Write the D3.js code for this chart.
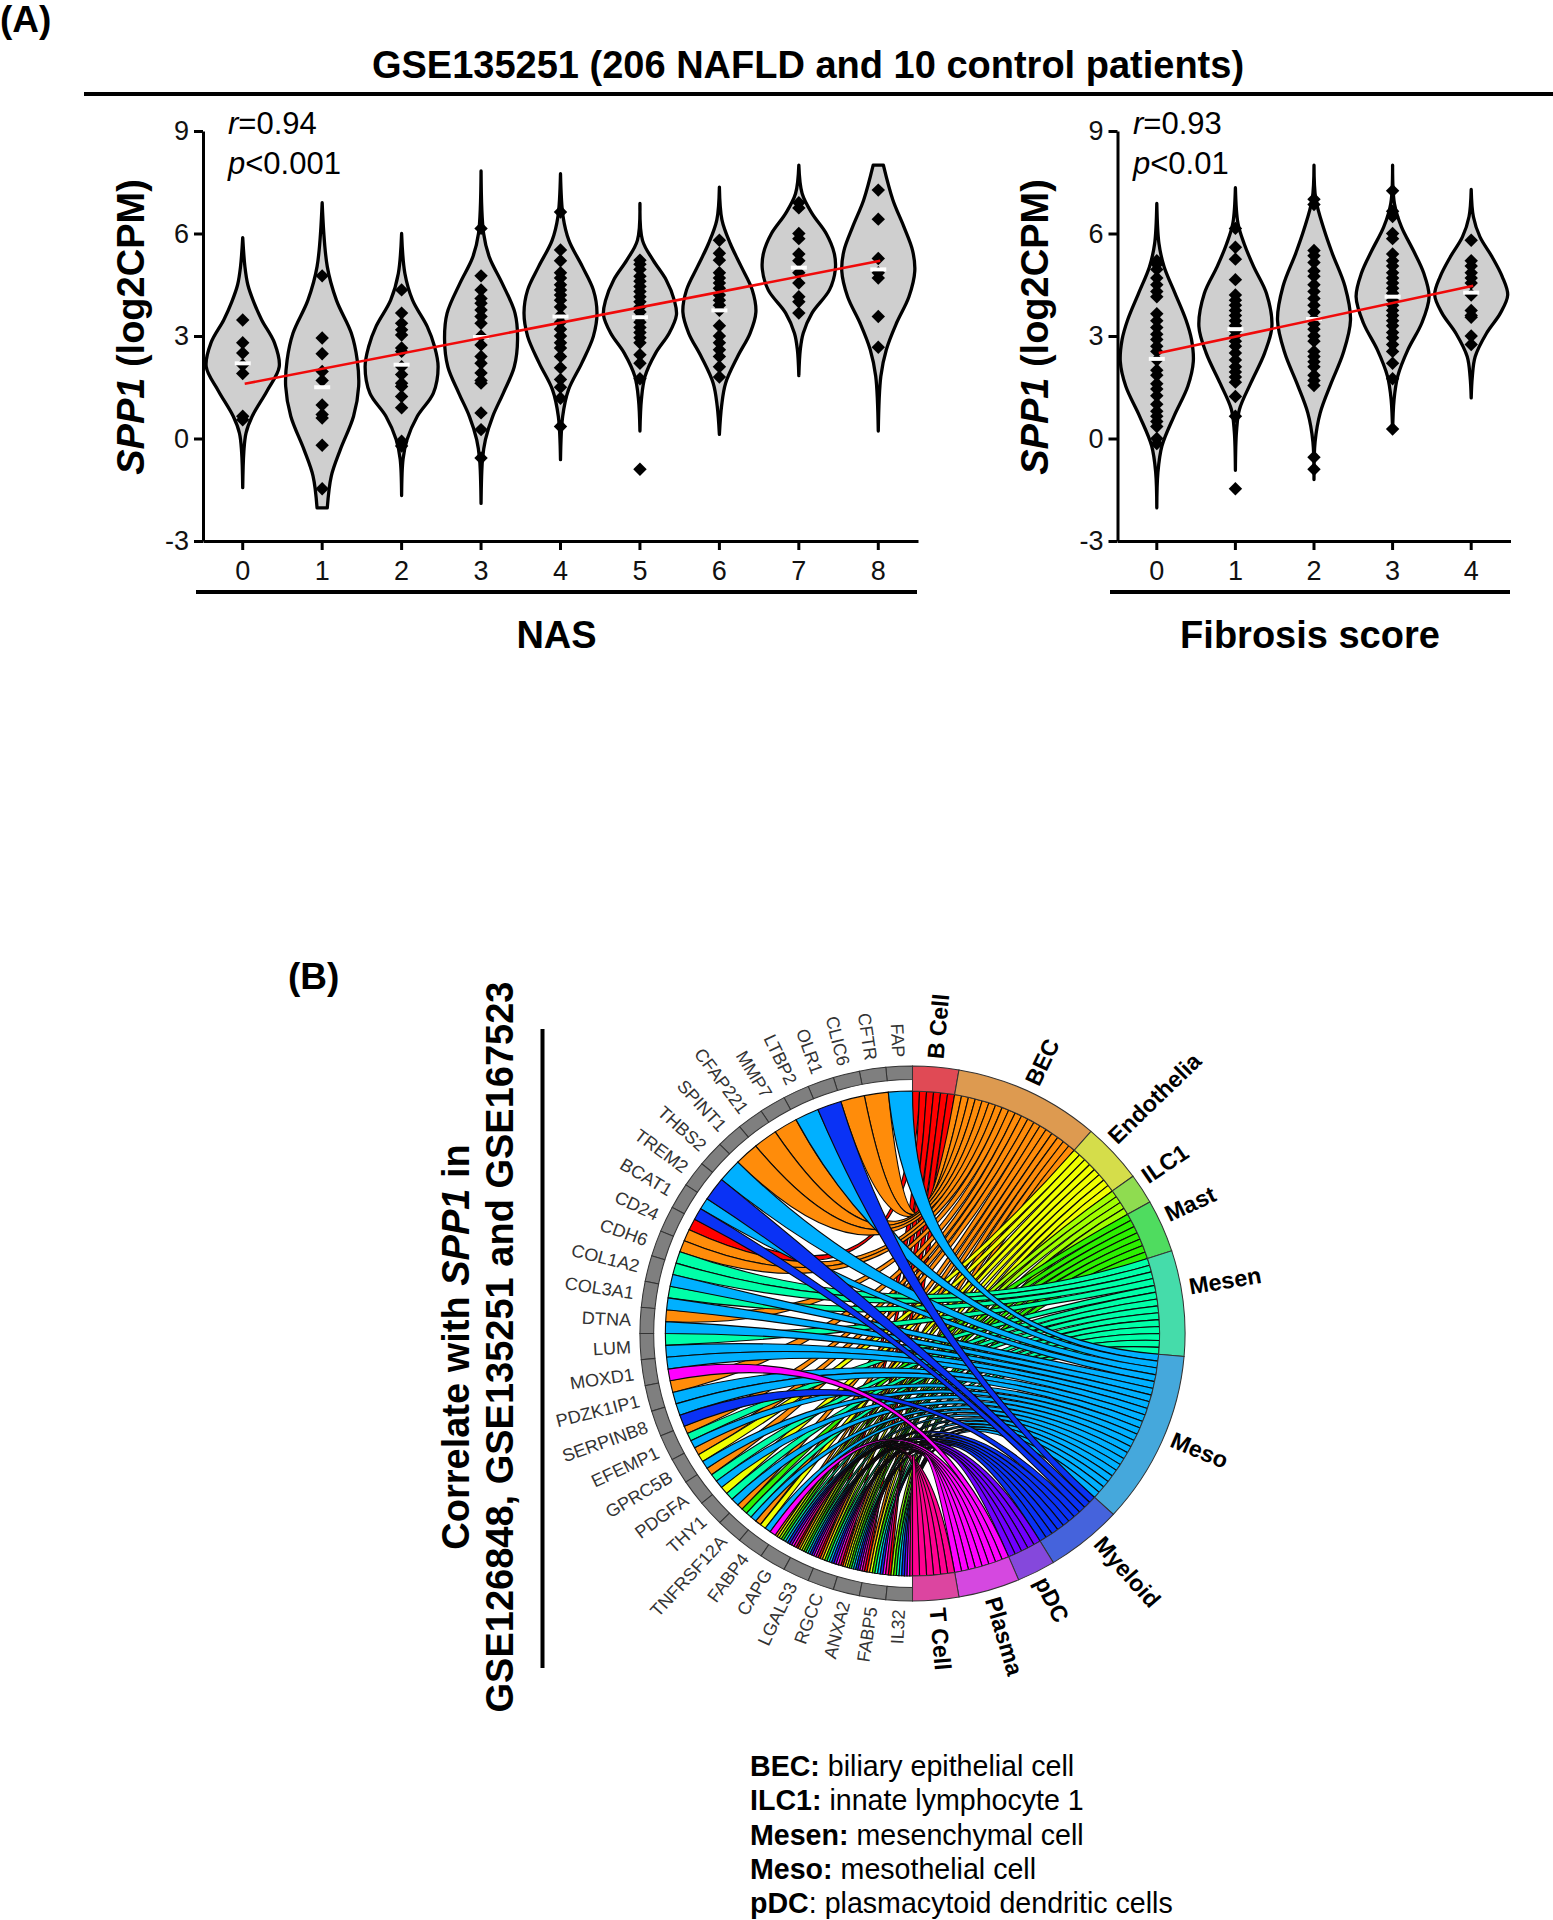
<!DOCTYPE html>
<html lang="en">
<head>
<meta charset="utf-8">
<title>SPP1 violin and chord</title>
<script src="https://cdn.jsdelivr.net/npm/d3@7"></script>
<style>
  body { margin: 0; background: #fff; }
  text { font-family: "Liberation Sans", Arial, sans-serif; fill: #000; }
  .axis path, .axis line { stroke: #000; stroke-width: 3px; }
  .axis text { font-size: 27px; fill: #111; }
  .violin { fill: #cfcfcf; stroke: #000; stroke-width: 3.3px; stroke-linejoin: round; }
  .link { stroke: #0a0a0a; stroke-width: 1.1px; }
</style>
</head>
<body>
<div id="chart"></div>
<script>
// panel A: NAS
var nasLabels = ["0","1","2","3","4","5","6","7","8"];
var nasMedians = [2.2,1.5,2.16,2.97,3.57,3.55,3.75,5.0,4.95];
var nasTrend = [1.6,5.2];
var nasPoints = [
  [3.47,2.8,2.5,2.15,1.9,0.65,0.55],
  [4.76,2.94,2.48,1.96,1.7,0.98,0.7,0.6,-0.2,-1.47],
  [4.35,3.67,3.37,3.18,3.03,2.65,2.55,2.1,1.87,1.62,1.52,1.23,0.9,-0.08,-0.22],
  [6.15,4.76,4.35,4.1,3.96,3.76,3.57,3.37,3,2.74,2.4,2.2,1.92,1.7,1.62,0.75,0.26,-0.57],
  [6.63,5.52,5.2,4.85,4.7,4.5,4.35,4.2,4.05,3.85,3.6,3.4,3.2,3,2.8,2.65,2.4,2.07,1.73,1.5,1.18,0.35],
  [5.22,5.1,4.95,4.75,4.6,4.45,4.3,4.15,4,3.85,3.7,3.55,3.4,3.25,3.1,2.95,2.8,2.45,2.2,1.75,-0.9],
  [5.8,5.42,5.22,4.85,4.7,4.55,4.4,4.2,4.05,3.9,3.75,3.3,3,2.8,2.6,2.4,2.1,1.8],
  [6.9,6.75,6,5.85,5.4,5.2,4.85,4.55,4.15,4,3.67],
  [7.27,6.42,5.27,4.85,4.7,3.57,2.67]
];
// violin outlines, each knot is [log2CPM, share of the full width]
var nasViolins = [
  [[5.88,0],[5.03,.06],[4.5,.14],[4,.3],[3.47,.52],[2.8,.87],[2.1,1],[1.4,.67],[.65,.26],[.16,.09],[-.4,.03],[-1.44,0]],
  [[6.9,0],[5.03,.14],[4.05,.39],[3.08,.8],[2.3,.96],[1.53,1],[.65,.86],[-.32,.5],[-1.1,.25],[-2.03,.14]],
  [[6,0],[4.83,.09],[4.05,.3],[3.28,.7],[2.7,.9],[2.1,1],[1.33,.87],[.65,.43],[-.03,.15],[-.6,.04],[-1.67,0]],
  [[7.83,0],[6,.07],[5.3,.23],[4.54,.58],[3.67,.93],[2.9,1],[2.1,.91],[1.33,.61],[.65,.32],[-.03,.12],[-.6,.04],[-1.9,0]],
  [[7.75,0],[6.5,.07],[5.8,.23],[5.03,.6],[4.35,.9],[3.67,1],[2.99,.9],[2.2,.58],[1.43,.22],[.65,.06],[-.62,0]],
  [[6.88,0],[5.8,.07],[5.22,.36],[4.64,.72],[4.05,.94],[3.62,1],[3.08,.8],[2.5,.43],[1.82,.14],[1.14,.04],[.22,0]],
  [[7.36,0],[6.4,.07],[5.7,.3],[5.03,.6],[4.35,.9],[3.7,1],[3.08,.84],[2.4,.5],[1.62,.17],[.95,.06],[.12,0]],
  [[8,0],[7.17,.09],[6.59,.36],[6,.75],[5.42,.97],[4.95,1],[4.35,.84],[3.67,.36],[3.08,.12],[2.6,.04],[1.84,0]],
  [[8,.14],[6.98,.4],[6.2,.7],[5.5,.94],[4.9,1],[4.15,.84],[3.38,.5],[2.6,.22],[1.82,.07],[.22,0]]
];

// panel A: fibrosis score
var fibLabels = ["0","1","2","3","4"];
var fibMedians = [2.33,3.2,3.5,4.15,4.27];
var fibTrend = [2.5,4.47];
var fibPoints = [
  [5.2,5.1,4.95,4.7,4.5,4.3,4.15,3.65,3.45,3.25,3.05,2.9,2.7,2.55,2.3,2,1.85,1.6,1.45,1.25,1,.8,.65,.5,.35,0,-.15],
  [6.15,5.6,5.25,4.65,4.2,4.05,3.9,3.75,3.6,3.45,3.3,3.15,3,2.85,2.7,2.5,2.3,2.1,1.95,1.8,1.65,1.23,.65,-1.47],
  [7,6.85,5.5,5.35,5.15,4.9,4.75,4.5,4.3,4.1,3.9,3.7,3.5,3.35,3.2,3,2.85,2.55,2.4,2.25,2.1,1.85,1.7,1.55,-.55,-.9],
  [7.25,6.65,6.5,6,5.85,5.4,5.2,5.05,4.85,4.7,4.55,4.4,4.25,4.05,3.9,3.75,3.6,3.45,3.3,3.1,2.95,2.75,2.55,2.2,1.75,.28],
  [5.8,5.2,5.05,4.85,4.7,4.55,4.2,3.75,3.6,3.55,3,2.75]
];
var fibViolins = [
  [[6.88,0],[5.7,.06],[5.03,.2],[4.25,.5],[3.47,.8],[2.9,.95],[2.25,1],[1.53,.85],[.65,.47],[-.22,.14],[-1,.03],[-2.03,0]],
  [[7.34,0],[6.3,.07],[5.7,.24],[5.03,.5],[4.25,.85],[3.28,1],[2.5,.8],[1.62,.42],[.85,.11],[.2,.03],[-.93,0]],
  [[8,0],[7,.05],[6.1,.28],[5.42,.5],[4.45,.85],[3.47,1],[2.5,.8],[1.62,.47],[.75,.17],[-.1,.03],[-1.2,0]],
  [[8,0],[6.88,.05],[6.2,.24],[5.5,.57],[4.85,.85],[4.15,1],[3.38,.8],[2.6,.42],[1.82,.14],[1.14,.04],[.17,0]],
  [[7.29,0],[6.49,.06],[5.9,.24],[5.32,.57],[4.74,.85],[4.2,1],[3.67,.8],[3.08,.42],[2.4,.11],[1.8,.03],[1.19,0]]
];

// panel B
var cellNames = ["B Cell","BEC","Endothelia","ILC1","Mast","Mesen","Meso","Myeloid","pDC","Plasma","T Cell"];
var linkColors = ["#ff0000","#ff8c0a","#f0ff00","#a0ff00","#2cf000","#00ffa8","#00b0ff","#0a32f5","#7000ff","#ff00ff","#ff0090"];
var sectorColors = ["#e04a55","#dd9a50","#d5dd4a","#8fdc50","#4fdc5f","#45dcaa","#45a8dc","#4563dc","#8548dc","#d548e0","#dc45a0"];
var geneNames = ["FAP","CFTR","CLIC6","OLR1","LTBP2","MMP7","CFAP221","SPINT1","THBS2","TREM2","BCAT1","CD24","CDH6","COL1A2","COL3A1","DTNA","LUM","MOXD1","PDZK1IP1","SERPINB8","EFEMP1","GPRC5B","PDGFA","THY1","TNFRSF12A","FABP4","CAPG","LGALS3","RGCC","ANXA2","FABP5","IL32"];
// which cells each gene links to, by index in cellNames
var geneCells = [
  [6],[1],[1],[7],[6],[1],[1],[1],[6],[7],
  [6,7],[0,1],[1,5],[5,6],[5,6],[1,6],[5,6],[6,9],[1,6],[6,7],
  [1,5,6],[1,2,6],[1,5,6],[2,5,6],[1,4,5,6],[1,2,6,9],
  [1,2,3,4,5,6,7,8,9,10],
  [0,1,2,3,4,5,6,7,8,9,10],
  [0,1,2,4,5,6,7,8,9,10],
  [0,1,2,3,4,5,6,7,8,9,10],
  [0,1,2,4,5,6,7,9,10],
  [0,3,4,5,6,7,8,9,10]
];
var legendKeys = ["BEC:","ILC1:","Mesen:","Meso:","pDC"];
var legendTexts = [" biliary epithelial cell"," innate lymphocyte 1"," mesenchymal cell"," mesothelial cell",": plasmacytoid dendritic cells"];

var width = 1553, height = 1920;

var svg = d3.select("#chart").append("svg")
    .attr("width", width)
    .attr("height", height)
    .attr("viewBox", "0 0 " + width + " " + height)
    .style("display", "block");

svg.append("text").attr("x", 0).attr("y", 32).attr("font-size", 37).attr("font-weight", "bold").text("(A)");
svg.append("text").attr("x", 288).attr("y", 989).attr("font-size", 37).attr("font-weight", "bold").text("(B)");

svg.append("text").attr("x", 808).attr("y", 78).attr("text-anchor", "middle")
    .attr("font-size", 38).attr("font-weight", "bold")
    .text("GSE135251 (206 NAFLD and 10 control patients)");
svg.append("line").attr("x1", 84).attr("x2", 1553).attr("y1", 94).attr("y2", 94)
    .attr("stroke", "#000").attr("stroke-width", 4);

var y = d3.scaleLinear().domain([-3, 9]).range([541, 131]);
var halfWidth = 36.5;

function drawPanel(opts) {
  var x = d3.scaleBand().domain(opts.labels).range(opts.range);
  var center = function(i) { return x(opts.labels[i]) + x.bandwidth() / 2; };
  var g = svg.append("g");

  opts.violins.forEach(function(knots, i) {
    var area = d3.area()
        .y(function(d) { return y(d[0]); })
        .x0(function(d) { return center(i) - d[1] * halfWidth; })
        .x1(function(d) { return center(i) + d[1] * halfWidth; })
        .curve(d3.curveCatmullRom.alpha(0.5));
    g.append("path").attr("class", "violin").attr("d", area(knots));
  });

  opts.points.forEach(function(vals, i) {
    g.selectAll(null).data(vals).enter().append("path")
        .attr("d", d3.symbol().type(d3.symbolDiamond2).size(115))
        .attr("transform", function(d) { return "translate(" + center(i) + "," + y(d) + ")"; })
        .attr("fill", "#000");
  });

  g.selectAll(null).data(opts.medians).enter().append("rect")
      .attr("x", function(d, i) { return center(i) - 8; })
      .attr("y", function(d) { return y(d) - 2; })
      .attr("width", 16).attr("height", 4).attr("fill", "#fff");

  g.append("line")
      .attr("x1", center(0) + 2).attr("x2", center(opts.labels.length - 1) + 2)
      .attr("y1", y(opts.trend[0])).attr("y2", y(opts.trend[1]))
      .attr("stroke", "#f00a0a").attr("stroke-width", 2.6);

  g.append("g").attr("class", "axis").attr("transform", "translate(0,541)")
      .call(d3.axisBottom(x).tickSize(9).tickPadding(11).tickSizeOuter(0));
  g.append("g").attr("class", "axis").attr("transform", "translate(" + opts.range[0] + ",0)")
      .call(d3.axisLeft(y).tickValues([-3, 0, 3, 6, 9]).tickFormat(String).tickSize(9).tickPadding(5).tickSizeOuter(0));

  var yl = g.append("text").attr("text-anchor", "middle").attr("font-size", 38).attr("font-weight", "bold")
      .attr("transform", "translate(" + opts.ylabelX + ",327) rotate(-90)");
  yl.append("tspan").attr("font-style", "italic").text("SPP1");
  yl.append("tspan").text(" (log2CPM)");

  var r = g.append("text").attr("x", opts.statX).attr("y", 134).attr("font-size", 31);
  r.append("tspan").attr("font-style", "italic").text("r");
  r.append("tspan").text("=" + opts.r);
  var p = g.append("text").attr("x", opts.statX).attr("y", 174).attr("font-size", 31);
  p.append("tspan").attr("font-style", "italic").text("p");
  p.append("tspan").text("<" + opts.p);

  g.append("line").attr("x1", opts.rule[0]).attr("x2", opts.rule[1]).attr("y1", 592).attr("y2", 592)
      .attr("stroke", "#000").attr("stroke-width", 4);
  g.append("text").attr("x", (opts.rule[0] + opts.rule[1]) / 2).attr("y", 648).attr("text-anchor", "middle")
      .attr("font-size", 38).attr("font-weight", "bold").text(opts.name);
}

drawPanel({
  labels: nasLabels, violins: nasViolins, points: nasPoints, medians: nasMedians, trend: nasTrend,
  range: [203, 918], ylabelX: 144, statX: 228, r: "0.94", p: "0.001", rule: [196, 917], name: "NAS"
});
drawPanel({
  labels: fibLabels, violins: fibViolins, points: fibPoints, medians: fibMedians, trend: fibTrend,
  range: [1117.5, 1510.5], ylabelX: 1048, statX: 1133, r: "0.93", p: "0.01", rule: [1110, 1510], name: "Fibrosis score"
});

// chord part: cell arcs are sized by how many links they get
var R = 267.5, ribbonR = 242.5, geneInner = 254;
var deg = Math.PI / 180;
// labels in the picture don't sit quite mid-sector, degrees to turn them by
var labelTurn = [0, 0, -2, -1.5, -1.5, -3, -1, -2, 0, 0, 0];

var cellCounts = cellNames.map(function(c, i) {
  return d3.sum(geneCells, function(list) { return list.indexOf(i) >= 0 ? 1 : 0; });
});
var cum = d3.cumsum(cellCounts);
var total = cum[cum.length - 1];
var cellAngle = d3.scaleLinear().domain([0, total]).range([0, Math.PI]);
var geneAngle = d3.scaleLinear().domain([0, geneNames.length]).range([2 * Math.PI, Math.PI]);

var links = [];
var used = cellNames.map(function() { return 0; });
geneCells.forEach(function(list, gi) {
  var hi = geneAngle(gi), w = (geneAngle(gi) - geneAngle(gi + 1)) / list.length;
  list.forEach(function(ci, j) {
    var start = (ci ? cum[ci - 1] : 0) + used[ci];
    used[ci] += 1;
    links.push({
      cell: ci,
      source: { startAngle: cellAngle(start), endAngle: cellAngle(start + 1), radius: ribbonR },
      target: { startAngle: hi - (j + 1) * w, endAngle: hi - j * w, radius: ribbonR }
    });
  });
});
links.sort(function(a, b) { return a.cell - b.cell; });

var chord = svg.append("g").attr("transform", "translate(912.5,1333.5) scale(1.019,1)");

chord.selectAll(".link").data(links).enter().append("path")
    .attr("class", "link")
    .attr("d", d3.ribbon())
    .attr("fill", function(d) { return linkColors[d.cell]; });

var cellArc = d3.arc().innerRadius(ribbonR).outerRadius(R);
chord.selectAll(".cell").data(cellNames).enter().append("path")
    .attr("class", "cell")
    .attr("d", function(d, i) {
      return cellArc({ startAngle: cellAngle(i ? cum[i - 1] : 0), endAngle: cellAngle(cum[i]) });
    })
    .attr("fill", function(d, i) { return sectorColors[i]; })
    .attr("stroke", "#333").attr("stroke-width", 1);

var geneArc = d3.arc().innerRadius(geneInner).outerRadius(R);
chord.selectAll(".gene").data(geneNames).enter().append("path")
    .attr("class", "gene")
    .attr("d", function(d, i) { return geneArc({ startAngle: geneAngle(i + 1), endAngle: geneAngle(i) }); })
    .attr("fill", "#7f7f7f")
    .attr("stroke", "#333").attr("stroke-width", 1);

chord.selectAll(".geneLabel").data(geneNames).enter().append("text")
    .attr("class", "geneLabel")
    .attr("text-anchor", "end")
    .attr("dy", "0.35em")
    .attr("font-size", 17.8)
    .style("fill", "#333")
    .attr("transform", function(d, i) {
      var a = (geneAngle(i) + geneAngle(i + 1)) / 2 / deg;
      return "rotate(" + a + ") translate(0," + -(R + 9) + ") rotate(90)";
    })
    .text(function(d) { return d; });

chord.selectAll(".cellLabel").data(cellNames).enter().append("text")
    .attr("class", "cellLabel")
    .attr("dy", "0.3em")
    .attr("font-size", 23)
    .attr("font-weight", "bold")
    .attr("transform", function(d, i) {
      var a = (cellAngle(i ? cum[i - 1] : 0) + cellAngle(cum[i])) / 2 / deg + labelTurn[i];
      return "rotate(" + a + ") translate(0," + -(R + 8) + ") rotate(-90)";
    })
    .text(function(d) { return d; });

// rotated side heading
var side = svg.append("g").attr("font-weight", "bold").attr("font-size", 38).attr("text-anchor", "middle");
var line1 = side.append("text").attr("transform", "translate(469,1347) rotate(-90)");
line1.append("tspan").text("Correlate with ");
line1.append("tspan").attr("font-style", "italic").text("SPP1");
line1.append("tspan").text(" in");
side.append("text").attr("transform", "translate(513,1347) rotate(-90)").text("GSE126848, GSE135251 and GSE167523");
svg.append("line").attr("x1", 542.5).attr("x2", 542.5).attr("y1", 1029).attr("y2", 1668)
    .attr("stroke", "#000").attr("stroke-width", 4);

// abbreviations
var legendY = d3.scalePoint().domain(legendKeys).range([1776, 1913]);
legendKeys.forEach(function(k, i) {
  var t = svg.append("text").attr("x", 750).attr("y", legendY(k)).attr("font-size", 28.6);
  t.append("tspan").attr("font-weight", "bold").text(k);
  t.append("tspan").text(legendTexts[i]);
});
</script>
</body>
</html>
